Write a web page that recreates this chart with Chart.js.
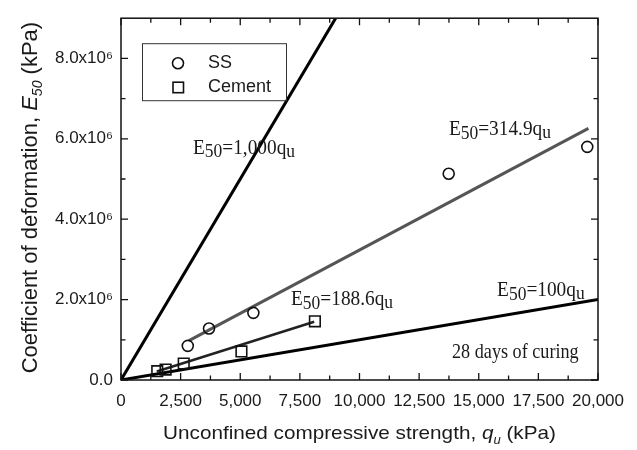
<!DOCTYPE html>
<html>
<head>
<meta charset="utf-8">
<script src="https://cdn.jsdelivr.net/npm/chart.js@4.4.1/dist/chart.umd.min.js"></script>
<style>
  html, body { margin: 0; padding: 0; background: #fff; }
  #wrap { width: 637px; height: 450px; position: relative; }
</style>
</head>
<body>
<div id="wrap"><canvas id="e50Chart"></canvas></div>
<script>
// E50 vs unconfined compressive strength, 28 days of curing (kPa)
const ssStrength = [2800, 3690, 5550, 13740, 19550];
const ssModulus = [0.85e6, 1.28e6, 1.67e6, 5.13e6, 5.80e6];
const cementStrength = [1520, 1870, 2630, 5050, 8130];
const cementModulus = [0.22e6, 0.26e6, 0.41e6, 0.71e6, 1.46e6];

// end points of the reference and fitted lines
const line1000X = [0, 9000];
const line1000Y = [0, 9.0e6];
const line100X = [0, 20000];
const line100Y = [0, 2.0e6];
const ssFitX = [2850, 19600];
const ssFitY = [0.98e6, 6.26e6];
const cementFitX = [1500, 8100];
const cementFitY = [0.21e6, 1.45e6];

const xTicks = [0, 2500, 5000, 7500, 10000, 12500, 15000, 17500, 20000];
const xMinorTicks = [1250, 3750, 6250, 8750, 11250, 13750, 16250, 18750];
const yTicks = [0, 2e6, 4e6, 6e6, 8e6];
const yMinorTicks = [1e6, 3e6, 5e6, 7e6];

const SANS = '"Liberation Sans", Arial, sans-serif';
const SERIF = '"Liberation Serif", "Times New Roman", serif';
const INK = '#1a1a1a';

const zip = (xs, ys) => xs.map((x, i) => ({ x: x, y: ys[i] }));
const withCommas = v => String(v).replace(/\B(?=(\d{3})+(?!\d))/g, ',');

// draws a run of text pieces with their own fonts / baseline offsets
function richText(ctx, x, y, parts, sx) {
  ctx.save();
  ctx.translate(x, y);
  ctx.scale(sx || 1, 1);
  let cx = 0;
  parts.forEach(p => {
    ctx.font = p.font;
    ctx.fillText(p.text, cx, p.dy || 0);
    cx += ctx.measureText(p.text).width;
  });
  ctx.restore();
}

function richWidth(ctx, parts) {
  let w = 0;
  parts.forEach(p => { ctx.font = p.font; w += ctx.measureText(p.text).width; });
  return w;
}

function eqParts(coef) {
  return [
    { text: 'E', font: '21px ' + SERIF },
    { text: '50', font: '19px ' + SERIF, dy: 3.5 },
    { text: '=' + coef + 'q', font: '21px ' + SERIF },
    { text: 'u', font: '19px ' + SERIF, dy: 3 }
  ];
}

const framePlugin = {
  id: 'frame',
  afterDraw(chart) {
    const { ctx, chartArea: a, scales: { x, y } } = chart;
    ctx.save();
    ctx.strokeStyle = '#111';
    ctx.lineWidth = 1.5;
    ctx.strokeRect(a.left, a.top, a.right - a.left, a.bottom - a.top);

    // inward tick marks on all four sides
    ctx.lineWidth = 1.3;
    ctx.beginPath();
    const xt = (list, len) => list.forEach(v => {
      const px = x.getPixelForValue(v);
      ctx.moveTo(px, a.bottom); ctx.lineTo(px, a.bottom - len);
      ctx.moveTo(px, a.top); ctx.lineTo(px, a.top + len);
    });
    const yt = (list, len) => list.forEach(v => {
      const py = y.getPixelForValue(v);
      ctx.moveTo(a.left, py); ctx.lineTo(a.left + len, py);
      ctx.moveTo(a.right, py); ctx.lineTo(a.right - len, py);
    });
    xt(xTicks, 7); xt(xMinorTicks, 4.5);
    yt(yTicks, 7); yt(yMinorTicks, 4.5);
    ctx.stroke();

    ctx.fillStyle = INK;
    ctx.textBaseline = 'alphabetic';

    // axis titles
    const xTitle = [
      { text: 'Unconfined compressive strength, ', font: '19px ' + SANS },
      { text: 'q', font: 'italic 19px ' + SANS },
      { text: 'u', font: 'italic 12px ' + SANS, dy: 5 },
      { text: ' (kPa)', font: '19px ' + SANS }
    ];
    const xs = 1.09;
    const xw = richWidth(ctx, xTitle) * xs;
    richText(ctx, (a.left + a.right) / 2 - xw / 2, 439, xTitle, xs);

    const yTitle = [
      { text: 'Coefficient of deformation, ', font: '22px ' + SANS },
      { text: 'E', font: 'italic 22px ' + SANS },
      { text: '50', font: 'italic 14px ' + SANS, dy: 5 },
      { text: ' (kPa)', font: '22px ' + SANS }
    ];
    const yw = richWidth(ctx, yTitle);
    ctx.save();
    ctx.translate(37, (a.top + a.bottom) / 2 - 1.5);
    ctx.rotate(-Math.PI / 2);
    richText(ctx, -yw / 2, 0, yTitle);
    ctx.restore();

    // line labels
    const at = (vx, vy) => [x.getPixelForValue(vx), y.getPixelForValue(vy)];
    let p;
    p = at(3020, 5.63e6); richText(ctx, p[0], p[1], eqParts('1,000'), 0.92);
    p = at(13750, 6.09e6); richText(ctx, p[0], p[1], eqParts('314.9'), 0.92);
    p = at(7130, 1.86e6); richText(ctx, p[0], p[1], eqParts('188.6'), 0.92);
    p = at(15770, 2.08e6); richText(ctx, p[0], p[1], eqParts('100'), 0.92);
    p = at(13880, 0.555e6);
    richText(ctx, p[0], p[1], [{ text: '28 days of curing', font: '21px ' + SERIF }], 0.865);

    // legend box
    const lx = a.left + 21, ly = a.top + 25;
    ctx.lineWidth = 1;
    ctx.strokeStyle = '#333';
    ctx.strokeRect(lx + 0.5, ly + 0.5, 144, 57);
    ctx.strokeStyle = '#111';
    ctx.lineWidth = 1.6;
    ctx.beginPath();
    ctx.arc(lx + 36, ly + 20, 5.5, 0, Math.PI * 2);
    ctx.stroke();
    ctx.strokeRect(lx + 31, ly + 39, 10.5, 10.5);
    ctx.font = '18px ' + SANS;
    ctx.textBaseline = 'middle';
    ctx.fillText('SS', lx + 66, ly + 20);
    ctx.fillText('Cement', lx + 66, ly + 44);
    ctx.restore();
  }
};

new Chart(document.getElementById('e50Chart'), {
  type: 'scatter',
  data: {
    datasets: [
      {
        label: 'SS',
        data: zip(ssStrength, ssModulus),
        pointStyle: 'circle',
        pointRadius: 5.5,
        borderColor: '#111',
        backgroundColor: 'rgba(0,0,0,0)',
        borderWidth: 1.6,
        order: 0
      },
      {
        label: 'Cement',
        data: zip(cementStrength, cementModulus),
        pointStyle: 'rect',
        pointRadius: 7.5,
        borderColor: '#111',
        backgroundColor: 'rgba(0,0,0,0)',
        borderWidth: 1.6,
        order: 1
      },
      {
        label: 'E50=1,000qu',
        data: zip(line1000X, line1000Y),
        showLine: true, pointRadius: 0,
        borderColor: '#000', borderWidth: 3, order: 3
      },
      {
        label: 'E50=100qu',
        data: zip(line100X, line100Y),
        showLine: true, pointRadius: 0,
        borderColor: '#000', borderWidth: 3, order: 3
      },
      {
        label: 'E50=314.9qu',
        data: zip(ssFitX, ssFitY),
        showLine: true, pointRadius: 0,
        borderColor: '#555', borderWidth: 3, order: 2
      },
      {
        label: 'E50=188.6qu',
        data: zip(cementFitX, cementFitY),
        showLine: true, pointRadius: 0,
        borderColor: '#222', borderWidth: 2.5, order: 2
      }
    ]
  },
  options: {
    responsive: true,
    maintainAspectRatio: false,
    animation: false,
    events: [],
    layout: { padding: { top: 8, right: 39, left: 0, bottom: 0 } },
    plugins: { legend: { display: false }, tooltip: { enabled: false } },
    scales: {
      x: {
        type: 'linear', min: 0, max: 20000,
        grid: { display: false, drawTicks: false },
        border: { display: false },
        afterBuildTicks: s => { s.ticks = xTicks.map(v => ({ value: v })); },
        afterFit: s => { s.height = 70; },
        ticks: {
          padding: 11, color: INK, maxRotation: 0, autoSkip: false,
          font: { family: SANS, size: 17 },
          callback: v => withCommas(v)
        }
      },
      y: {
        type: 'linear', min: 0, max: 9e6,
        grid: { display: false, drawTicks: false },
        border: { display: false },
        afterBuildTicks: s => { s.ticks = yTicks.map(v => ({ value: v })); },
        afterFit: s => { s.width = 121; },
        ticks: {
          padding: 8, color: INK, autoSkip: false,
          font: { family: SANS, size: 17 },
          callback: v => v === 0 ? '0.0' : (v / 1e6).toFixed(1) + 'x10\u2076'
        }
      }
    }
  },
  plugins: [framePlugin]
});
</script>
</body>
</html>
